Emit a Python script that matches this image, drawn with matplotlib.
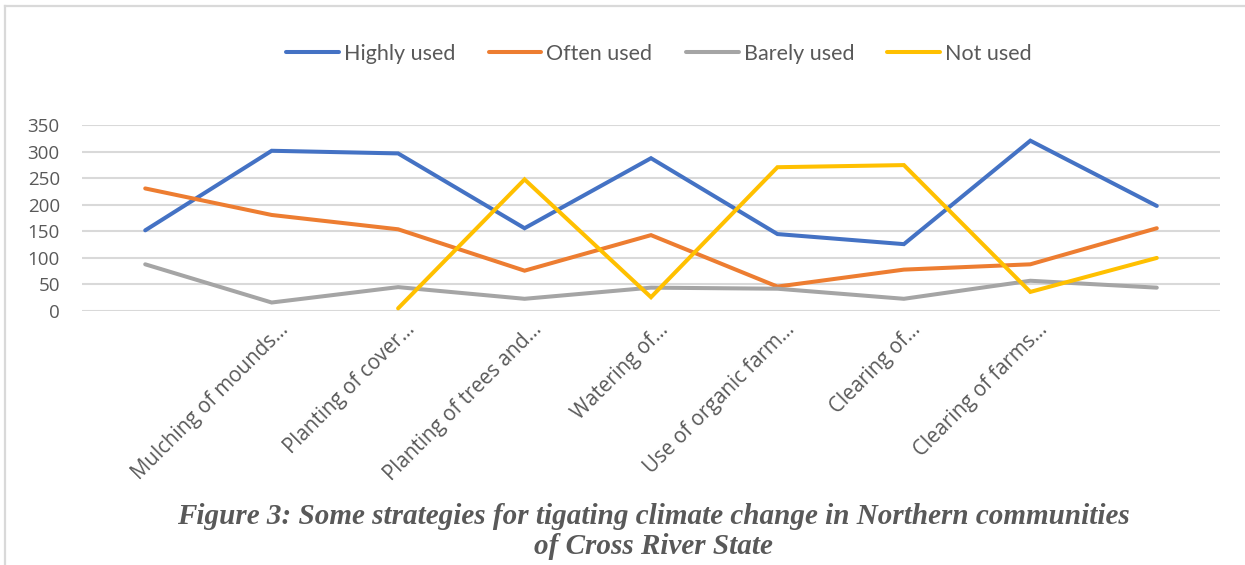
import numpy as np
import matplotlib
matplotlib.use("Agg")
import matplotlib.pyplot as plt
from matplotlib.lines import Line2D
from matplotlib.transforms import ScaledTranslation

categories = ["", "Mulching of mounds…", "Planting of cover…", "Planting of trees and…",
              "Watering of…", "Use of organic farm…", "Clearing of…",
              "Clearing of farms…", ""]
highly_used = [152, 302, 297, 156, 288, 145, 126, 321, 198]
often_used = [231, 181, 154, 76, 143, 46, 78, 88, 156]
barely_used = [88, 16, 45, 23, 44, 42, 23, 57, 44]
not_used = [np.nan, np.nan, 5, 248, 26, 271, 275, 36, 100]

series = [
    ("Highly used", highly_used, "#4472C4"),
    ("Often used", often_used, "#ED7D31"),
    ("Barely used", barely_used, "#A5A5A5"),
    ("Not used", not_used, "#FFC000"),
]
yticks = [0, 50, 100, 150, 200, 250, 300, 350]

W, H = 1245, 565
fig = plt.figure(figsize=(W / 100, H / 100), dpi=100)
fig.patch.set_facecolor("white")

# chart frame (left and top edges)
fig.add_artist(Line2D([5.5 / W, 5.5 / W], [0, 1 - 5.5 / H], transform=fig.transFigure,
                      color="#d9d9d9", lw=1.6))
fig.add_artist(Line2D([5.5 / W, 1], [1 - 5.5 / H, 1 - 5.5 / H], transform=fig.transFigure,
                      color="#d9d9d9", lw=1.6))

left, right, top, bottom = 82, 1220, 125.3, 311
ax = fig.add_axes([left / W, 1 - bottom / H, (right - left) / W, (bottom - top) / H])

x = np.arange(len(categories))
for name, vals, col in series:
    ax.plot(x, vals, color=col, lw=2.9, solid_capstyle="round",
            solid_joinstyle="miter", label=name, zorder=3)

ax.set_xlim(-0.5, len(categories) - 0.5)
ax.set_ylim(0, 350)
ax.set_yticks(yticks)
ax.set_yticklabels([str(v) for v in yticks], fontsize=13.5, color="#595959",
                   family="Open Sans")
ax.yaxis.grid(True, color="#d9d9d9", lw=1.5, zorder=0)
ax.set_axisbelow(True)
for s in ["top", "right", "left", "bottom"]:
    ax.spines[s].set_visible(False)
ax.tick_params(axis="y", length=0, pad=16)
ax.tick_params(axis="x", length=0, pad=11)
ax.set_xticks(x)
ax.set_xticklabels(categories, rotation=45, ha="right", va="center",
                   rotation_mode="anchor", fontsize=14.8, color="#595959",
                   family="Open Sans")
# shift the rotated category labels so their ends sit just right of each point
shift = ScaledTranslation(0.14, 0, fig.dpi_scale_trans)
for lbl in ax.get_xticklabels():
    lbl.set_transform(lbl.get_transform() + shift)

handles = [Line2D([], [], color=c, lw=2.9, solid_capstyle="round") for _, _, c in series]
fig.legend(handles, [n for n, _, _ in series], loc="center", ncol=4,
           bbox_to_anchor=(659 / W, 1 - 54 / H), frameon=False,
           prop={"family": "Lato", "size": 15.5}, labelcolor="#595959",
           handlelength=2.45, handletextpad=0.23, columnspacing=1.55)

fig.text(653 / W, 1 - 516 / H,
         "Figure 3: Some strategies for tigating climate change in Northern communities",
         ha="center", va="center", fontsize=21, family="Liberation Serif",
         weight="bold", style="italic", color="#595959")
fig.text(653 / W, 1 - 546 / H, "of Cross River State",
         ha="center", va="center", fontsize=21, family="Liberation Serif",
         weight="bold", style="italic", color="#595959")

fig.savefig("out.png", dpi=100, facecolor="white")
